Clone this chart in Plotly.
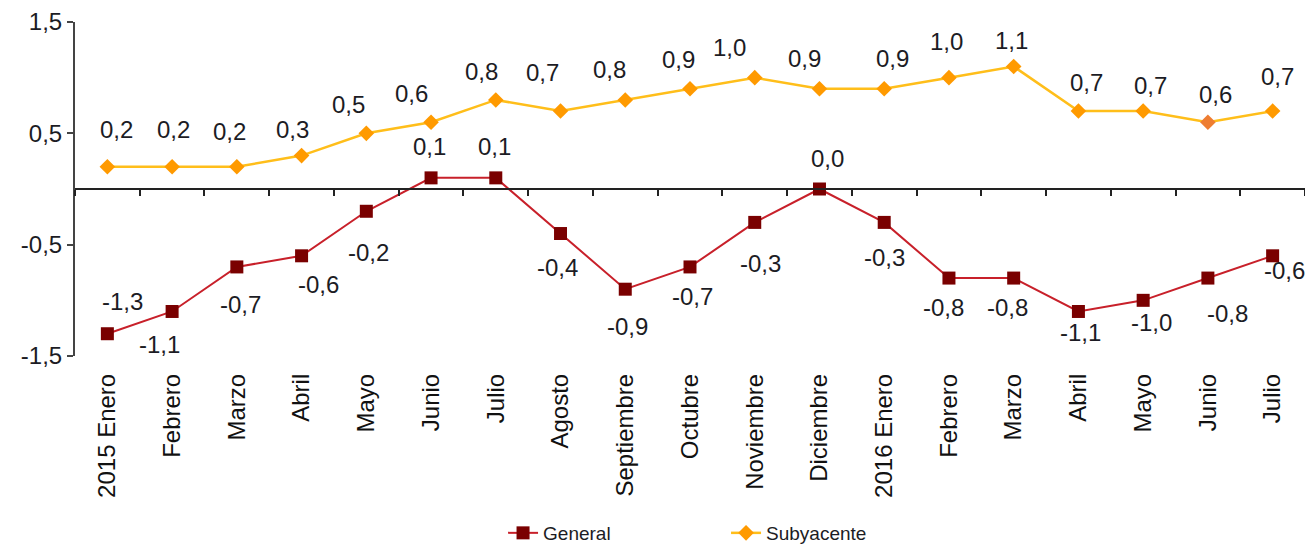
import plotly.graph_objects as go

# datos
meses = ["2015 Enero", "Febrero", "Marzo", "Abril", "Mayo", "Junio", "Julio",
         "Agosto", "Septiembre", "Octubre", "Noviembre", "Diciembre",
         "2016 Enero", "Febrero", "Marzo", "Abril", "Mayo", "Junio", "Julio"]
general = [-1.3, -1.1, -0.7, -0.6, -0.2, 0.1, 0.1, -0.4, -0.9, -0.7, -0.3, 0.0,
           -0.3, -0.8, -0.8, -1.1, -1.0, -0.8, -0.6]
subyacente = [0.2, 0.2, 0.2, 0.3, 0.5, 0.6, 0.8, 0.7, 0.8, 0.9, 1.0, 0.9,
              0.9, 1.0, 1.1, 0.7, 0.7, 0.6, 0.7]
y_ticks = [-1.5, -0.5, 0.5, 1.5]
y_ticktext = ["-1,5", "-0,5", "0,5", "1,5"]

# desplazamiento de las etiquetas (px): dx derecha, dy abajo
gen_dx = [15, -13, 4, 17, 2, -2, -1, -3, 2, 2, 6, 8, 0, -5, -6, 2, 8, 20, 12]
gen_dy = [-32, 33, 38, 29, 41, -31, -31, 34, 37, 30, 41, -31, 35, 29, 29, 21, 22, 35, 15]
sub_dx = [9, 1, -7, -9, -18, -20, -14, -18, -16, -12, -25, -15, 8, -2, -2, 8, 7, 8, 5]
sub_dy = [-37, -37, -35, -26, -29, -29, -28, -39, -30, -29, -30, -30, -30, -36, -26, -29, -26, -28, -35]

FONT = "Arial, Liberation Sans, sans-serif"
TXT = "#1c1c24"

x = list(range(len(meses)))
sub_colors = ["#FF9A00"] * len(x)
sub_colors[17] = "#EE7D31"


def fmt(v):
    return f"{v:.1f}".replace(".", ",")


fig = go.Figure()

fig.add_trace(
    go.Scatter(
        x=x, y=general, name="General", mode="lines+markers",
        line=dict(color="#C8202A", width=2),
        marker=dict(symbol="square", size=13, color="#7A0000"),
    )
)
fig.add_trace(
    go.Scatter(
        x=x, y=subyacente, name="Subyacente", mode="lines+markers",
        xaxis="x2",
        line=dict(color="#FFBE1A", width=2.5),
        marker=dict(symbol="diamond", size=12, color=sub_colors),
    )
)

ann = []
for i in x:
    ann.append(dict(x=i, y=general[i], text=fmt(general[i]), showarrow=False,
                    xshift=gen_dx[i], yshift=-gen_dy[i],
                    font=dict(size=24, color=TXT, family=FONT)))
    ann.append(dict(x=i, y=subyacente[i], text=fmt(subyacente[i]), showarrow=False,
                    xshift=sub_dx[i], yshift=-sub_dy[i],
                    font=dict(size=24, color=TXT, family=FONT)))

# el cuerpo de la página añade 8 px de margen: figura algo menor que la ventana
fig.update_layout(
    width=1297,
    height=544,
    margin=dict(l=67, r=0, t=3, b=189),
    paper_bgcolor="white",
    plot_bgcolor="white",
    font=dict(family=FONT, color=TXT),
    annotations=ann,
    showlegend=True,
    legend=dict(
        orientation="h", x=0.348, xanchor="left", y=-0.53, yanchor="middle",
        font=dict(size=19, color=TXT), entrywidth=178,
    ),
    xaxis=dict(
        range=[-0.5, 18.5], tickvals=x, ticktext=meses, tickangle=-90,
        showline=False, ticks="", showgrid=False, zeroline=False,
        tickfont=dict(size=24, color="#111"), ticklabelstandoff=12,
    ),
    xaxis2=dict(
        overlaying="x", matches="x", anchor="free", position=0.5,
        showline=True, linecolor="#222", linewidth=1.5,
        ticks="outside", ticklen=6, tickcolor="#222", tickwidth=1.5,
        tickmode="linear", tick0=-0.5, dtick=1,
        showticklabels=False, showgrid=False, zeroline=False,
    ),
    yaxis=dict(
        range=[-1.5, 1.5], tickvals=y_ticks, ticktext=y_ticktext,
        showline=True, linecolor="#444", linewidth=2,
        ticks="outside", ticklen=6, tickcolor="#444", tickwidth=2,
        showgrid=False, zeroline=False, ticklabeloverflow="allow",
        tickfont=dict(size=24, color=TXT),
    ),
)

fig.write_html("out.html")
